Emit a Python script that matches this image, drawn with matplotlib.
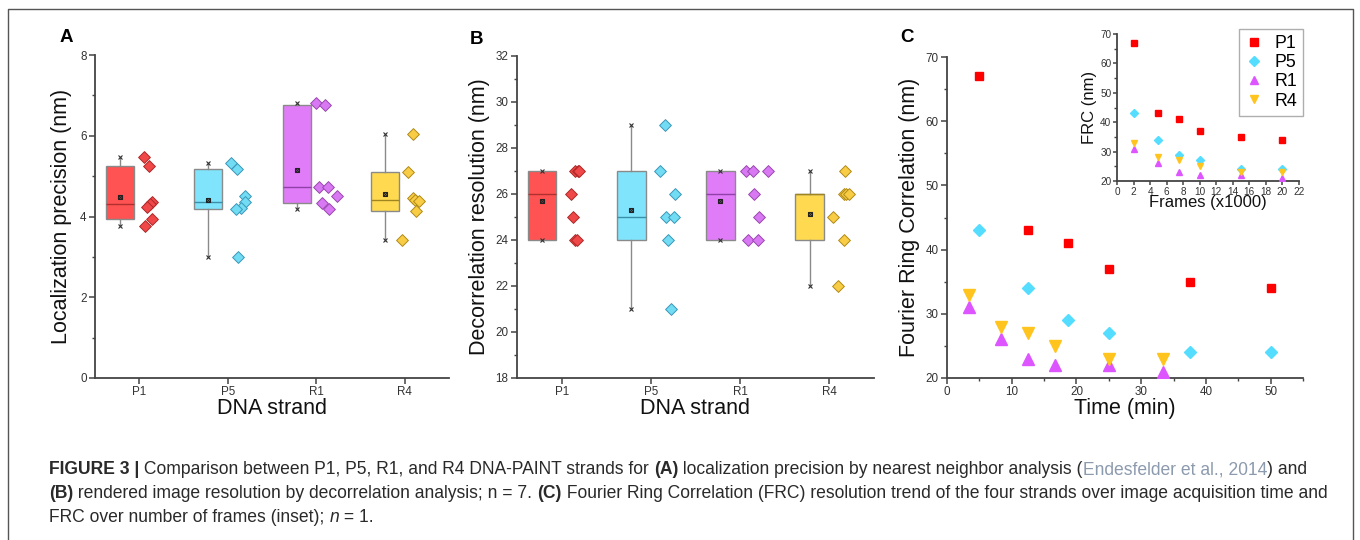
import numpy as np
import matplotlib
matplotlib.use('Agg')
import matplotlib.pyplot as plt
from matplotlib.lines import Line2D
from matplotlib.ticker import MultipleLocator

plt.rcParams['font.family'] = ['Liberation Sans', 'DejaVu Sans']

# ---------------- data ----------------
strands = ['P1', 'P5', 'R1', 'R4']

# Panel A: localization precision (nm), n = 7
loc_P1 = [5.48, 5.26, 4.35, 4.30, 4.23, 3.93, 3.76]
loc_P5 = [5.33, 5.17, 4.52, 4.36, 4.21, 4.19, 3.00]
loc_R1 = [6.82, 6.76, 4.72, 4.72, 4.52, 4.33, 4.18]
loc_R4 = [6.05, 5.11, 4.45, 4.40, 4.38, 4.13, 3.41]
loc_jit_P1 = [0.05, 0.11, 0.14, 0.12, 0.09, 0.14, 0.07]
loc_jit_P5 = [0.04, 0.10, 0.19, 0.20, 0.15, 0.09, 0.12]
loc_jit_R1 = [0.00, 0.10, 0.03, 0.13, 0.24, 0.06, 0.14]
loc_jit_R4 = [0.09, 0.04, 0.09, 0.12, 0.16, 0.13, -0.03]

# Panel B: decorrelation resolution (nm), n = 7
dec_P1 = [27, 27, 27, 26, 25, 24, 24]
dec_P5 = [29, 27, 26, 25, 25, 24, 21]
dec_R1 = [27, 27, 27, 26, 25, 24, 24]
dec_R4 = [27, 26, 26, 26, 25, 24, 22]
dec_jit_P1 = [0.15, 0.18, 0.20, 0.10, 0.13, 0.15, 0.17]
dec_jit_P5 = [0.16, 0.10, 0.27, 0.17, 0.26, 0.19, 0.22]
dec_jit_R1 = [0.07, 0.14, 0.31, 0.16, 0.21, 0.09, 0.20]
dec_jit_R4 = [0.18, 0.16, 0.19, 0.22, 0.04, 0.16, 0.10]

# Panel C: FRC (nm) vs time (min) and frames (x1000)
time_P = [5, 12.5, 18.75, 25, 37.5, 50]
time_R = [3.33, 8.33, 12.5, 16.67, 25, 33.33]
frames = [2, 5, 7.5, 10, 15, 20]
frc_P1 = [67, 43, 41, 37, 35, 34]
frc_P5 = [43, 34, 29, 27, 24, 24]
frc_R1 = [31, 26, 23, 22, 22, 21]
frc_R4 = [33, 28, 27, 25, 23, 23]

# ---------------- styles ----------------
box_fill = ['#FF5252', '#80E4FC', '#E07CF8', '#FFDA50']
box_med = ['#B03030', '#3A8FA8', '#9040A8', '#A08420']
pt_fill = ['#F04848', '#72DCF4', '#D878F2', '#F8CC44']
pt_edge = ['#B02828', '#3A98B8', '#9A48B0', '#B08A18']
c_cols = ['#FF0000', '#55DDFF', '#DD55FF', '#FFC41E']
c_marks = ['s', 'D', '^', 'v']
SPINE = '#444444'
TXT = '#333333'

W, H = 1360, 540
fig = plt.figure(figsize=(W / 100, H / 100), dpi=100)


def px_axes(x0, y0, x1, y1):
    return fig.add_axes([x0 / W, 1 - y1 / H, (x1 - x0) / W, (y1 - y0) / H])


def style_axes(ax, lsize=8.4):
    for s in ['top', 'right']:
        ax.spines[s].set_visible(False)
    for s in ['left', 'bottom']:
        ax.spines[s].set_color(SPINE)
        ax.spines[s].set_linewidth(1.3)
    ax.tick_params(which='major', direction='out', length=4, width=1.1,
                   color=SPINE, labelsize=lsize, labelcolor=TXT, pad=2)
    ax.tick_params(which='minor', direction='out', length=2.5, width=1.0,
                   color=SPINE)
    ax.set_facecolor('none')


def box_panel(ax, groups, jits):
    pos = np.arange(1, len(groups) + 1)
    stats = []
    for g in groups:
        a = np.asarray(g, dtype=float)
        q1, med, q3 = np.percentile(a, [25, 50, 75], method='weibull')
        stats.append(dict(med=med, q1=q1, q3=q3, whislo=a.min(),
                          whishi=a.max(), mean=a.mean(), fliers=[]))
    bpos = pos - 0.22
    bp = ax.bxp(stats, positions=bpos, widths=0.32, patch_artist=True,
                showcaps=False, showfliers=False, showmeans=False,
                whiskerprops=dict(color='#8a8a8a', lw=1.0),
                manage_ticks=False, zorder=2)
    for i, patch in enumerate(bp['boxes']):
        patch.set_facecolor(box_fill[i])
        patch.set_edgecolor('#8a8a8a')
        patch.set_linewidth(1.0)
        bp['medians'][i].set_color(box_med[i])
        bp['medians'][i].set_linewidth(1.0)
    for i, st in enumerate(stats):
        ax.plot([bpos[i]] * 2, [st['whislo'], st['whishi']], ls='none',
                marker='x', ms=3, mew=0.8, color='#333333', zorder=4)
        ax.plot(bpos[i], st['mean'], marker='s', ms=3.2, mfc='none',
                mec='#222222', mew=0.8, zorder=4)
        ax.plot(bpos[i], st['mean'], marker='x', ms=3, mew=0.8,
                color='#222222', zorder=4)
    for i, (g, j) in enumerate(zip(groups, jits)):
        ax.scatter(pos[i] + np.asarray(j), g, marker='D', s=36,
                   facecolor=pt_fill[i], edgecolor=pt_edge[i], linewidth=0.7,
                   zorder=3)
    ax.set_xlim(0.5, 4.5)
    ax.set_xticks(pos)
    ax.set_xticklabels(strands)


# ---------------- Panel A ----------------
axA = px_axes(95, 55, 449, 378)
style_axes(axA)
box_panel(axA, [loc_P1, loc_P5, loc_R1, loc_R4],
          [loc_jit_P1, loc_jit_P5, loc_jit_R1, loc_jit_R4])
axA.set_ylim(0, 8)
axA.yaxis.set_major_locator(MultipleLocator(2))
axA.yaxis.set_minor_locator(MultipleLocator(1))
axA.set_ylabel('Localization precision (nm)', fontsize=15.5, color='#111111',
               labelpad=6)
axA.set_xlabel('DNA strand', fontsize=15.5, color='#111111', labelpad=0)

# ---------------- Panel B ----------------
axB = px_axes(517, 56, 874, 378)
style_axes(axB)
box_panel(axB, [dec_P1, dec_P5, dec_R1, dec_R4],
          [dec_jit_P1, dec_jit_P5, dec_jit_R1, dec_jit_R4])
axB.set_ylim(18, 32)
axB.yaxis.set_major_locator(MultipleLocator(2))
axB.yaxis.set_minor_locator(MultipleLocator(1))
axB.set_ylabel('Decorrelation resolution (nm)', fontsize=15.5, color='#111111',
               labelpad=4)
axB.set_xlabel('DNA strand', fontsize=15.5, color='#111111', labelpad=0)

# ---------------- Panel C ----------------
axC = px_axes(947, 57, 1303, 378)
style_axes(axC)
c_series = [frc_P1, frc_P5, frc_R1, frc_R4]
c_times = [time_P, time_P, time_R, time_R]
c_ms = [6, 6.5, 8, 8]
handles = []
for i, (t, v) in enumerate(zip(c_times, c_series)):
    axC.plot(t, v, ls='none', marker=c_marks[i], ms=c_ms[i], color=c_cols[i],
             mec=c_cols[i], zorder=3)
    handles.append(Line2D([], [], ls='none', marker=c_marks[i], ms=5.5,
                          color=c_cols[i], label=strands[i]))
axC.set_xlim(0, 55)
axC.set_ylim(20, 70)
axC.xaxis.set_major_locator(MultipleLocator(10))
axC.xaxis.set_minor_locator(MultipleLocator(5))
axC.yaxis.set_major_locator(MultipleLocator(10))
axC.yaxis.set_minor_locator(MultipleLocator(5))
axC.set_ylabel('Fourier Ring Correlation (nm)', fontsize=15.5, color='#111111',
               labelpad=4)
axC.set_xlabel('Time (min)', fontsize=15.5, color='#111111', labelpad=0)

# inset
axI = px_axes(1117, 34, 1299, 181)
style_axes(axI, lsize=7.2)
axI.tick_params(which='major', length=3, pad=1)
axI.tick_params(which='minor', length=2)
for i, v in enumerate(c_series):
    axI.plot(frames, v, ls='none', marker=c_marks[i], ms=4.3, color=c_cols[i],
             zorder=3)
axI.set_xlim(0, 22)
axI.set_ylim(20, 70)
axI.xaxis.set_major_locator(MultipleLocator(2))
axI.yaxis.set_major_locator(MultipleLocator(10))
axI.yaxis.set_minor_locator(MultipleLocator(5))
axI.set_ylabel('FRC (nm)', fontsize=12, color='#111111', labelpad=2)
axI.set_xlabel('Frames (x1000)', fontsize=12, color='#111111', labelpad=-1)

leg = axC.legend(handles=handles, loc='upper right',
                 bbox_to_anchor=(1303 / W, 1 - 29 / H),
                 bbox_transform=fig.transFigure, fontsize=12.8, frameon=True,
                 fancybox=False, borderaxespad=0, borderpad=0.35,
                 labelspacing=0.12, handlelength=0.9, handletextpad=0.7)
leg.get_frame().set_edgecolor('#9a9a9a')
leg.get_frame().set_linewidth(1.0)
leg.set_zorder(10)

# panel letters
for lx, ly, s in [(60, 38, 'A'), (470, 39, 'B'), (900, 38, 'C')]:
    fig.text(lx / W, 1 - ly / H, s, fontsize=13.5, fontweight='bold',
             ha='left', va='center', color='#000000')

# figure frame (left, top, right)
fig.add_artist(Line2D([8 / W, 8 / W, 1353 / W, 1353 / W],
                      [0, 1 - 9 / H, 1 - 9 / H, 0],
                      transform=fig.transFigure, color='#555555', lw=1.0))

# ---------------- caption ----------------
cap_lines = [
    [('FIGURE 3 |', 'bold', None), (' Comparison between P1, P5, R1, and R4 DNA-PAINT strands for ', 'normal', None),
     ('(A)', 'bold', None), (' localization precision by nearest neighbor analysis (', 'normal', None),
     ('Endesfelder et al., 2014', 'normal', '#8C9AAE'), (') and', 'normal', None)],
    [('(B)', 'bold', None), (' rendered image resolution by decorrelation analysis; n = 7. ', 'normal', None),
     ('(C)', 'bold', None),
     (' Fourier Ring Correlation (FRC) resolution trend of the four strands over image acquisition time and', 'normal', None)],
    [('FRC over number of frames (inset); ', 'normal', None), ('n', 'italic', None), (' = 1.', 'normal', None)],
]
cap_y = [470, 494, 518]
cap_x0 = 49
target_end = 1336  # right end of line 2

renderer = fig.canvas.get_renderer()


def draw_line(segs, y, fs, x0):
    x = x0
    arts = []
    for txt, sty, col in segs:
        kw = dict(fontsize=fs, color=col or '#2a2a2a', ha='left', va='center')
        if sty == 'bold':
            kw['fontweight'] = 'bold'
        elif sty == 'italic':
            kw['fontstyle'] = 'italic'
        t = fig.text(x / W, 1 - y / H, txt, **kw)
        bb = t.get_window_extent(renderer)
        x = bb.x1
        arts.append(t)
    return x, arts


fs0 = 10.0
end0, arts0 = draw_line(cap_lines[1], cap_y[1], fs0, cap_x0)
for a in arts0:
    a.remove()
fs = fs0 * (target_end - cap_x0) / (end0 - cap_x0)
for segs, y in zip(cap_lines, cap_y):
    draw_line(segs, y, fs, cap_x0)

fig.savefig('out.png', dpi=100)
